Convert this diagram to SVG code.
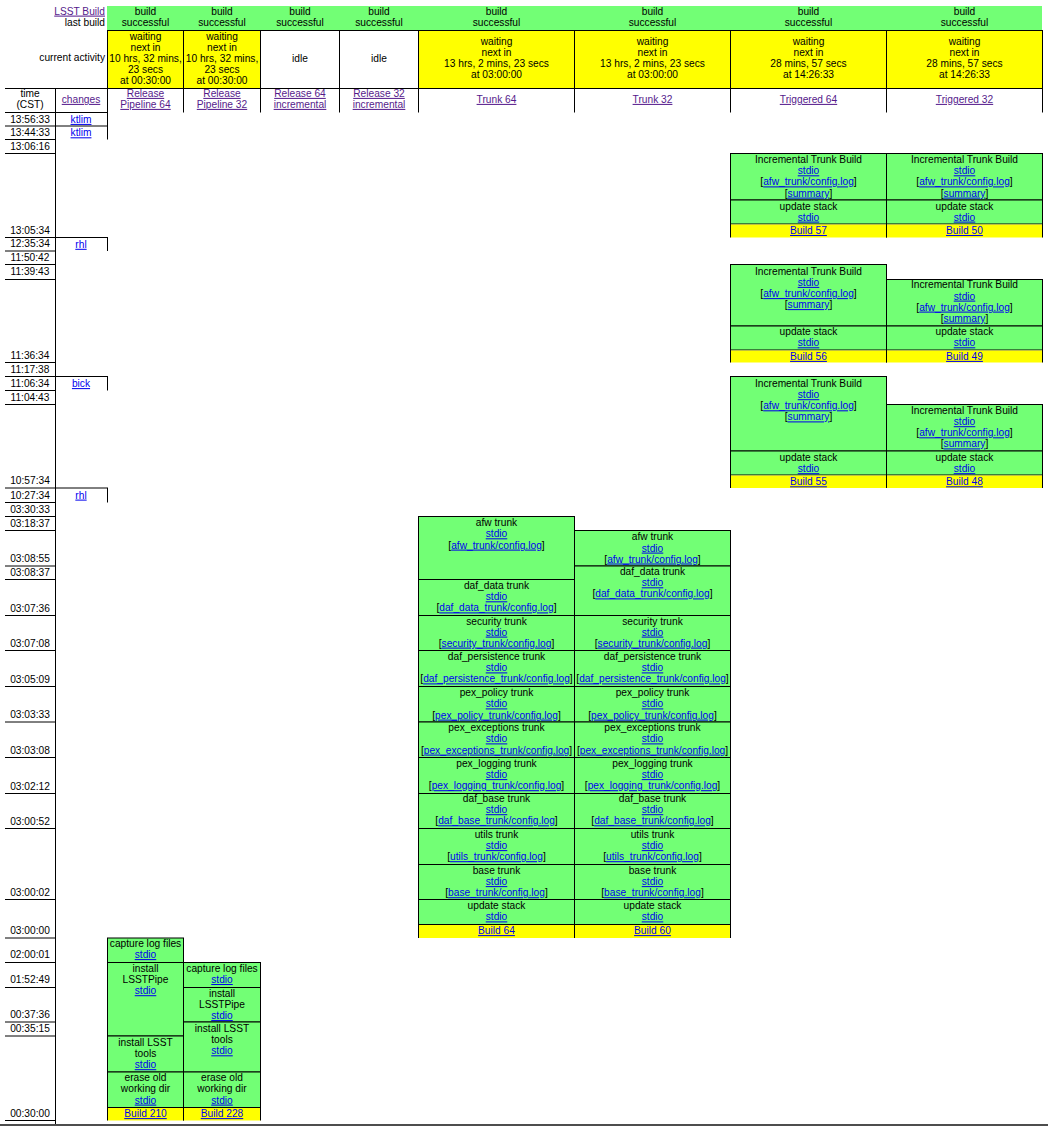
<svg xmlns="http://www.w3.org/2000/svg" width="1048" height="1126" viewBox="0 0 1048 1126">
<style>
text{font-family:"Liberation Sans",Arial,Helvetica,sans-serif;font-size:10.2px;fill:#000;text-anchor:middle}
.r{text-anchor:end}
.l{fill:#0000ee;text-decoration:underline}
.v{fill:#551a8b;text-decoration:underline}
.g{fill:#72ff75;stroke:#000;stroke-width:1}
.y{fill:#ffff00}
.w{fill:#fff;stroke:#000;stroke-width:1}
.ys{fill:#ffff00;stroke:#000;stroke-width:1}
line{stroke:#000;stroke-width:1}
</style>
<rect width="1048" height="1126" fill="#fff"/>

<g id="header">
  <rect x="107" y="6" width="935" height="24" fill="#72ff75"/>
  <text class="r v" x="105" y="14.6">LSST Build</text>
  <text class="r" x="105" y="25.6">last build</text>
  <text x="145.5" y="14.6">build</text><text x="145.5" y="25.6">successful</text>
  <text x="222" y="14.6">build</text><text x="222" y="25.6">successful</text>
  <text x="300" y="14.6">build</text><text x="300" y="25.6">successful</text>
  <text x="379" y="14.6">build</text><text x="379" y="25.6">successful</text>
  <text x="496.5" y="14.6">build</text><text x="496.5" y="25.6">successful</text>
  <text x="652.5" y="14.6">build</text><text x="652.5" y="25.6">successful</text>
  <text x="808.5" y="14.6">build</text><text x="808.5" y="25.6">successful</text>
  <text x="964.5" y="14.6">build</text><text x="964.5" y="25.6">successful</text>

  <text class="r" x="105" y="61.1">current activity</text>
  <rect class="ys" x="107.5" y="30.5" width="76" height="58"/>
  <rect class="ys" x="183.5" y="30.5" width="77" height="58"/>
  <rect class="w" x="260.5" y="30.5" width="79" height="58"/>
  <rect class="w" x="339.5" y="30.5" width="79" height="58"/>
  <rect class="ys" x="418.5" y="30.5" width="156" height="58"/>
  <rect class="ys" x="574.5" y="30.5" width="156" height="58"/>
  <rect class="ys" x="730.5" y="30.5" width="156" height="58"/>
  <rect class="ys" x="886.5" y="30.5" width="156" height="58"/>
  <text x="145.5" y="39.9">waiting</text><text x="145.5" y="50.9">next in</text><text x="145.5" y="61.9">10 hrs, 32 mins,</text><text x="145.5" y="72.9">23 secs</text><text x="145.5" y="83.6">at 00:30:00</text>
  <text x="222" y="39.9">waiting</text><text x="222" y="50.9">next in</text><text x="222" y="61.9">10 hrs, 32 mins,</text><text x="222" y="72.9">23 secs</text><text x="222" y="83.6">at 00:30:00</text>
  <text x="300" y="61.9">idle</text>
  <text x="379" y="61.9">idle</text>
  <text x="496.5" y="45.3">waiting</text><text x="496.5" y="56.1">next in</text><text x="496.5" y="66.9">13 hrs, 2 mins, 23 secs</text><text x="496.5" y="77.8">at 03:00:00</text>
  <text x="652.5" y="45.3">waiting</text><text x="652.5" y="56.1">next in</text><text x="652.5" y="66.9">13 hrs, 2 mins, 23 secs</text><text x="652.5" y="77.8">at 03:00:00</text>
  <text x="808.5" y="45.3">waiting</text><text x="808.5" y="56.1">next in</text><text x="808.5" y="66.9">28 mins, 57 secs</text><text x="808.5" y="77.8">at 14:26:33</text>
  <text x="964.5" y="45.3">waiting</text><text x="964.5" y="56.1">next in</text><text x="964.5" y="66.9">28 mins, 57 secs</text><text x="964.5" y="77.8">at 14:26:33</text>

  <text x="30" y="96.9">time</text><text x="30" y="107.9">(CST)</text>
  <text class="v" x="81" y="102.9">changes</text>
  <text class="v" x="145.5" y="96.9">Release</text><text class="v" x="145.5" y="107.9">Pipeline 64</text>
  <text class="v" x="222" y="96.9">Release</text><text class="v" x="222" y="107.9">Pipeline 32</text>
  <text class="v" x="300" y="96.9">Release 64</text><text class="v" x="300" y="107.9">incremental</text>
  <text class="v" x="379" y="96.9">Release 32</text><text class="v" x="379" y="107.9">incremental</text>
  <text class="v" x="496.5" y="102.9">Trunk 64</text>
  <text class="v" x="652.5" y="102.9">Trunk 32</text>
  <text class="v" x="808.5" y="102.9">Triggered 64</text>
  <text class="v" x="964.5" y="102.9">Triggered 32</text>
</g>

<g id="grid">
  <line x1="5" y1="88.5" x2="1043" y2="88.5"/>
  <line x1="55.5" y1="88.5" x2="55.5" y2="1124"/>
  <line x1="107.5" y1="88.5" x2="107.5" y2="112.5"/>
  <line x1="183.5" y1="88.5" x2="183.5" y2="112.5"/>
  <line x1="260.5" y1="88.5" x2="260.5" y2="112.5"/>
  <line x1="339.5" y1="88.5" x2="339.5" y2="112.5"/>
  <line x1="418.5" y1="88.5" x2="418.5" y2="112.5"/>
  <line x1="574.5" y1="88.5" x2="574.5" y2="112.5"/>
  <line x1="730.5" y1="88.5" x2="730.5" y2="112.5"/>
  <line x1="886.5" y1="88.5" x2="886.5" y2="112.5"/>
  <line x1="1042.5" y1="88.5" x2="1042.5" y2="112.5"/>
  <!-- change cells -->
  <line x1="5" y1="112.5" x2="108" y2="112.5"/>
  <line x1="5" y1="126" x2="108" y2="126"/>
  <line x1="107.5" y1="112.5" x2="107.5" y2="139.5"/>
  <line x1="5" y1="237.5" x2="108" y2="237.5"/>
  <line x1="107.5" y1="237.5" x2="107.5" y2="251"/>
  <line x1="5" y1="376.5" x2="108" y2="376.5"/>
  <line x1="107.5" y1="376.5" x2="107.5" y2="390.5"/>
  <line x1="5" y1="488" x2="108" y2="488"/>
  <line x1="107.5" y1="488" x2="107.5" y2="502.5"/>
  <!-- time rows -->
  <line x1="5" y1="139.5" x2="55" y2="139.5"/>
  <line x1="5" y1="153.5" x2="55" y2="153.5"/>
  <line x1="5" y1="251" x2="55" y2="251"/>
  <line x1="5" y1="264.5" x2="55" y2="264.5"/>
  <line x1="5" y1="279.5" x2="55" y2="279.5"/>
  <line x1="5" y1="362.5" x2="55" y2="362.5"/>
  <line x1="5" y1="390.5" x2="55" y2="390.5"/>
  <line x1="5" y1="404.5" x2="55" y2="404.5"/>
  <line x1="5" y1="502.5" x2="55" y2="502.5"/>
  <line x1="5" y1="516.5" x2="55" y2="516.5"/>
  <line x1="5" y1="530.5" x2="55" y2="530.5"/>
  <line x1="5" y1="566" x2="55" y2="566"/>
  <line x1="5" y1="579.5" x2="55" y2="579.5"/>
  <line x1="5" y1="615.5" x2="55" y2="615.5"/>
  <line x1="5" y1="650.5" x2="55" y2="650.5"/>
  <line x1="5" y1="686.5" x2="55" y2="686.5"/>
  <line x1="5" y1="722" x2="55" y2="722"/>
  <line x1="5" y1="757.5" x2="55" y2="757.5"/>
  <line x1="5" y1="793.5" x2="55" y2="793.5"/>
  <line x1="5" y1="828.5" x2="55" y2="828.5"/>
  <line x1="5" y1="899.5" x2="55" y2="899.5"/>
  <line x1="5" y1="938" x2="55" y2="938"/>
  <line x1="5" y1="962.5" x2="55" y2="962.5"/>
  <line x1="5" y1="987.5" x2="55" y2="987.5"/>
  <line x1="5" y1="1022" x2="55" y2="1022"/>
  <line x1="5" y1="1036" x2="55" y2="1036"/>
  <line x1="5" y1="1120.5" x2="55" y2="1120.5"/>
  <rect x="0" y="1124" width="1048" height="2" fill="#4d4d4d"/>
</g>

<g id="times">
  <text x="30" y="122.6">13:56:33</text>
  <text x="30" y="136.1">13:44:33</text>
  <text x="30" y="149.6">13:06:16</text>
  <text x="30" y="233.6">13:05:34</text>
  <text x="30" y="247.4">12:35:34</text>
  <text x="30" y="260.9">11:50:42</text>
  <text x="30" y="275.4">11:39:43</text>
  <text x="30" y="358.6">11:36:34</text>
  <text x="30" y="372.8">11:17:38</text>
  <text x="30" y="386.8">11:06:34</text>
  <text x="30" y="400.8">11:04:43</text>
  <text x="30" y="484.2">10:57:34</text>
  <text x="30" y="498.6">10:27:34</text>
  <text x="30" y="512.7">03:30:33</text>
  <text x="30" y="526.7">03:18:37</text>
  <text x="30" y="562.2">03:08:55</text>
  <text x="30" y="575.7">03:08:37</text>
  <text x="30" y="611.6">03:07:36</text>
  <text x="30" y="646.7">03:07:08</text>
  <text x="30" y="682.7">03:05:09</text>
  <text x="30" y="718.2">03:03:33</text>
  <text x="30" y="753.7">03:03:08</text>
  <text x="30" y="789.7">03:02:12</text>
  <text x="30" y="824.7">03:00:52</text>
  <text x="30" y="895.7">03:00:02</text>
  <text x="30" y="934.2">03:00:00</text>
  <text x="30" y="958.2">02:00:01</text>
  <text x="30" y="983.2">01:52:49</text>
  <text x="30" y="1018.2">00:37:36</text>
  <text x="30" y="1032.2">00:35:15</text>
  <text x="30" y="1116.7">00:30:00</text>
</g>

<g id="changes">
  <text class="l" x="81" y="122.9">ktlim</text>
  <text class="l" x="81" y="136.3">ktlim</text>
  <text class="l" x="81" y="247.8">rhl</text>
  <text class="l" x="81" y="387.1">bick</text>
  <text class="l" x="81" y="498.6">rhl</text>
</g>

<!-- Triggered 64 -->
<g id="trig64-build57">
  <rect class="g" x="730.5" y="153.5" width="156" height="46.5"/>
  <text x="808.5" y="163.1">Incremental Trunk Build</text>
  <text class="l" x="808.5" y="174.3">stdio</text>
  <text x="808.5" y="185.4">[<tspan class="l">afw_trunk/config.log</tspan>]</text>
  <text x="808.5" y="196.6">[<tspan class="l">summary</tspan>]</text>
  <rect class="g" x="730.5" y="200" width="156" height="24"/>
  <text x="808.5" y="209.6">update stack</text>
  <text class="l" x="808.5" y="220.6">stdio</text>
  <rect class="y" x="730.5" y="224.5" width="156" height="13"/>
  <line x1="730.5" y1="224" x2="730.5" y2="237.5"/><line x1="886.5" y1="224" x2="886.5" y2="237.5"/>
  <text class="l" x="808.5" y="234">Build 57</text>
</g>
<g id="trig32-build50">
  <rect class="g" x="886.5" y="153.5" width="156" height="46.5"/>
  <text x="964.5" y="163.1">Incremental Trunk Build</text>
  <text class="l" x="964.5" y="174.3">stdio</text>
  <text x="964.5" y="185.4">[<tspan class="l">afw_trunk/config.log</tspan>]</text>
  <text x="964.5" y="196.6">[<tspan class="l">summary</tspan>]</text>
  <rect class="g" x="886.5" y="200" width="156" height="24"/>
  <text x="964.5" y="209.6">update stack</text>
  <text class="l" x="964.5" y="220.6">stdio</text>
  <rect class="y" x="886.5" y="224.5" width="156" height="13"/>
  <line x1="886.5" y1="224" x2="886.5" y2="237.5"/><line x1="1042.5" y1="224" x2="1042.5" y2="237.5"/>
  <text class="l" x="964.5" y="234">Build 50</text>
</g>

<g id="trig64-build56">
  <rect class="g" x="730.5" y="264.5" width="156" height="61.5"/>
  <text x="808.5" y="274.6">Incremental Trunk Build</text>
  <text class="l" x="808.5" y="285.9">stdio</text>
  <text x="808.5" y="297.1">[<tspan class="l">afw_trunk/config.log</tspan>]</text>
  <text x="808.5" y="308.1">[<tspan class="l">summary</tspan>]</text>
  <rect class="g" x="730.5" y="326" width="156" height="24"/>
  <text x="808.5" y="335.1">update stack</text>
  <text class="l" x="808.5" y="346.3">stdio</text>
  <rect class="y" x="730.5" y="350.5" width="156" height="12"/>
  <line x1="730.5" y1="350" x2="730.5" y2="362.5"/><line x1="886.5" y1="350" x2="886.5" y2="362.5"/>
  <text class="l" x="808.5" y="359.9">Build 56</text>
</g>
<g id="trig32-build49">
  <rect class="g" x="886.5" y="279.5" width="156" height="46.5"/>
  <text x="964.5" y="288.4">Incremental Trunk Build</text>
  <text class="l" x="964.5" y="299.6">stdio</text>
  <text x="964.5" y="310.6">[<tspan class="l">afw_trunk/config.log</tspan>]</text>
  <text x="964.5" y="321.6">[<tspan class="l">summary</tspan>]</text>
  <rect class="g" x="886.5" y="326" width="156" height="24"/>
  <text x="964.5" y="335.1">update stack</text>
  <text class="l" x="964.5" y="346.3">stdio</text>
  <rect class="y" x="886.5" y="350.5" width="156" height="12"/>
  <line x1="886.5" y1="350" x2="886.5" y2="362.5"/><line x1="1042.5" y1="350" x2="1042.5" y2="362.5"/>
  <text class="l" x="964.5" y="359.9">Build 49</text>
</g>

<g id="trig64-build55">
  <rect class="g" x="730.5" y="376.5" width="156" height="74.5"/>
  <text x="808.5" y="386.9">Incremental Trunk Build</text>
  <text class="l" x="808.5" y="398.2">stdio</text>
  <text x="808.5" y="409.3">[<tspan class="l">afw_trunk/config.log</tspan>]</text>
  <text x="808.5" y="420.4">[<tspan class="l">summary</tspan>]</text>
  <rect class="g" x="730.5" y="451" width="156" height="24"/>
  <text x="808.5" y="460.9">update stack</text>
  <text class="l" x="808.5" y="472.2">stdio</text>
  <rect class="y" x="730.5" y="475.5" width="156" height="12.5"/>
  <line x1="730.5" y1="475" x2="730.5" y2="488"/><line x1="886.5" y1="475" x2="886.5" y2="488"/>
  <text class="l" x="808.5" y="485.3">Build 55</text>
</g>
<g id="trig32-build48">
  <rect class="g" x="886.5" y="404.5" width="156" height="46.5"/>
  <text x="964.5" y="413.9">Incremental Trunk Build</text>
  <text class="l" x="964.5" y="425.2">stdio</text>
  <text x="964.5" y="436.3">[<tspan class="l">afw_trunk/config.log</tspan>]</text>
  <text x="964.5" y="447.4">[<tspan class="l">summary</tspan>]</text>
  <rect class="g" x="886.5" y="451" width="156" height="24"/>
  <text x="964.5" y="460.9">update stack</text>
  <text class="l" x="964.5" y="472.2">stdio</text>
  <rect class="y" x="886.5" y="475.5" width="156" height="12.5"/>
  <line x1="886.5" y1="475" x2="886.5" y2="488"/><line x1="1042.5" y1="475" x2="1042.5" y2="488"/>
  <text class="l" x="964.5" y="485.3">Build 48</text>
</g>

<!-- Trunk 64 -->
<g id="trunk64-build64">
  <rect class="g" x="418.5" y="516.5" width="156" height="63"/>
  <text x="496.5" y="525.9">afw trunk</text><text class="l" x="496.5" y="537.3">stdio</text>
  <text x="496.5" y="548.6">[<tspan class="l">afw_trunk/config.log</tspan>]</text>
  <rect class="g" x="418.5" y="579.5" width="156" height="36"/>
  <text x="496.5" y="588.9">daf_data trunk</text><text class="l" x="496.5" y="600.3">stdio</text>
  <text x="496.5" y="611.4">[<tspan class="l">daf_data_trunk/config.log</tspan>]</text>
  <rect class="g" x="418.5" y="615.5" width="156" height="35"/>
  <text x="496.5" y="624.5">security trunk</text><text class="l" x="496.5" y="635.6">stdio</text>
  <text x="496.5" y="646.6">[<tspan class="l">security_trunk/config.log</tspan>]</text>
  <rect class="g" x="418.5" y="650.5" width="156" height="36"/>
  <text x="496.5" y="660.3">daf_persistence trunk</text><text class="l" x="496.5" y="671.4">stdio</text>
  <text x="496.5" y="682.4">[<tspan class="l">daf_persistence_trunk/config.log</tspan>]</text>
  <rect class="g" x="418.5" y="686.5" width="156" height="35.5"/>
  <text x="496.5" y="696.3">pex_policy trunk</text><text class="l" x="496.5" y="707.4">stdio</text>
  <text x="496.5" y="718.6">[<tspan class="l">pex_policy_trunk/config.log</tspan>]</text>
  <rect class="g" x="418.5" y="722" width="156" height="35.5"/>
  <text x="496.5" y="731.3">pex_exceptions trunk</text><text class="l" x="496.5" y="742.4">stdio</text>
  <text x="496.5" y="753.6">[<tspan class="l">pex_exceptions_trunk/config.log</tspan>]</text>
  <rect class="g" x="418.5" y="757.5" width="156" height="36"/>
  <text x="496.5" y="766.9">pex_logging trunk</text><text class="l" x="496.5" y="778.1">stdio</text>
  <text x="496.5" y="789.2">[<tspan class="l">pex_logging_trunk/config.log</tspan>]</text>
  <rect class="g" x="418.5" y="793.5" width="156" height="35"/>
  <text x="496.5" y="802.1">daf_base trunk</text><text class="l" x="496.5" y="813.2">stdio</text>
  <text x="496.5" y="824.3">[<tspan class="l">daf_base_trunk/config.log</tspan>]</text>
  <rect class="g" x="418.5" y="828.5" width="156" height="36"/>
  <text x="496.5" y="837.9">utils trunk</text><text class="l" x="496.5" y="849.1">stdio</text>
  <text x="496.5" y="860.2">[<tspan class="l">utils_trunk/config.log</tspan>]</text>
  <rect class="g" x="418.5" y="864.5" width="156" height="35"/>
  <text x="496.5" y="873.9">base trunk</text><text class="l" x="496.5" y="885.1">stdio</text>
  <text x="496.5" y="896.2">[<tspan class="l">base_trunk/config.log</tspan>]</text>
  <rect class="g" x="418.5" y="899.5" width="156" height="25"/>
  <text x="496.5" y="909.3">update stack</text><text class="l" x="496.5" y="920.4">stdio</text>
  <rect class="y" x="418.5" y="925" width="156" height="13"/>
  <line x1="418.5" y1="924.5" x2="418.5" y2="938"/><line x1="574.5" y1="924.5" x2="574.5" y2="938"/>
  <text class="l" x="496.5" y="934.1">Build 64</text>
</g>

<!-- Trunk 32 -->
<g id="trunk32-build60">
  <rect class="g" x="574.5" y="530.5" width="156" height="35.5"/>
  <text x="652.5" y="540.3">afw trunk</text><text class="l" x="652.5" y="551.6">stdio</text>
  <text x="652.5" y="562.5">[<tspan class="l">afw_trunk/config.log</tspan>]</text>
  <rect class="g" x="574.5" y="566" width="156" height="49.5"/>
  <text x="652.5" y="575.1">daf_data trunk</text><text class="l" x="652.5" y="586.3">stdio</text>
  <text x="652.5" y="597.4">[<tspan class="l">daf_data_trunk/config.log</tspan>]</text>
  <rect class="g" x="574.5" y="615.5" width="156" height="35"/>
  <text x="652.5" y="624.5">security trunk</text><text class="l" x="652.5" y="635.6">stdio</text>
  <text x="652.5" y="646.6">[<tspan class="l">security_trunk/config.log</tspan>]</text>
  <rect class="g" x="574.5" y="650.5" width="156" height="36"/>
  <text x="652.5" y="660.3">daf_persistence trunk</text><text class="l" x="652.5" y="671.4">stdio</text>
  <text x="652.5" y="682.4">[<tspan class="l">daf_persistence_trunk/config.log</tspan>]</text>
  <rect class="g" x="574.5" y="686.5" width="156" height="35.5"/>
  <text x="652.5" y="696.3">pex_policy trunk</text><text class="l" x="652.5" y="707.4">stdio</text>
  <text x="652.5" y="718.6">[<tspan class="l">pex_policy_trunk/config.log</tspan>]</text>
  <rect class="g" x="574.5" y="722" width="156" height="35.5"/>
  <text x="652.5" y="731.3">pex_exceptions trunk</text><text class="l" x="652.5" y="742.4">stdio</text>
  <text x="652.5" y="753.6">[<tspan class="l">pex_exceptions_trunk/config.log</tspan>]</text>
  <rect class="g" x="574.5" y="757.5" width="156" height="36"/>
  <text x="652.5" y="766.9">pex_logging trunk</text><text class="l" x="652.5" y="778.1">stdio</text>
  <text x="652.5" y="789.2">[<tspan class="l">pex_logging_trunk/config.log</tspan>]</text>
  <rect class="g" x="574.5" y="793.5" width="156" height="35"/>
  <text x="652.5" y="802.1">daf_base trunk</text><text class="l" x="652.5" y="813.2">stdio</text>
  <text x="652.5" y="824.3">[<tspan class="l">daf_base_trunk/config.log</tspan>]</text>
  <rect class="g" x="574.5" y="828.5" width="156" height="36"/>
  <text x="652.5" y="837.9">utils trunk</text><text class="l" x="652.5" y="849.1">stdio</text>
  <text x="652.5" y="860.2">[<tspan class="l">utils_trunk/config.log</tspan>]</text>
  <rect class="g" x="574.5" y="864.5" width="156" height="35"/>
  <text x="652.5" y="873.9">base trunk</text><text class="l" x="652.5" y="885.1">stdio</text>
  <text x="652.5" y="896.2">[<tspan class="l">base_trunk/config.log</tspan>]</text>
  <rect class="g" x="574.5" y="899.5" width="156" height="25"/>
  <text x="652.5" y="909.3">update stack</text><text class="l" x="652.5" y="920.4">stdio</text>
  <rect class="y" x="574.5" y="925" width="156" height="13"/>
  <line x1="574.5" y1="924.5" x2="574.5" y2="938"/><line x1="730.5" y1="924.5" x2="730.5" y2="938"/>
  <text class="l" x="652.5" y="934.1">Build 60</text>
</g>

<!-- Release Pipeline 64 -->
<g id="rp64-build210">
  <rect class="g" x="107.5" y="938" width="76" height="24.5"/>
  <text x="145.5" y="947.1">capture log files</text><text class="l" x="145.5" y="958.1">stdio</text>
  <rect class="g" x="107.5" y="962.5" width="76" height="73.5"/>
  <text x="145.5" y="971.9">install</text><text x="145.5" y="983">LSSTPipe</text><text class="l" x="145.5" y="994.2">stdio</text>
  <rect class="g" x="107.5" y="1036" width="76" height="36"/>
  <text x="145.5" y="1045.9">install LSST</text><text x="145.5" y="1057">tools</text><text class="l" x="145.5" y="1068.2">stdio</text>
  <rect class="g" x="107.5" y="1072" width="76" height="35.5"/>
  <text x="145.5" y="1081.3">erase old</text><text x="145.5" y="1092.4">working dir</text><text class="l" x="145.5" y="1103.6">stdio</text>
  <rect class="y" x="107.5" y="1108" width="76" height="12.5"/>
  <line x1="107.5" y1="1107.5" x2="107.5" y2="1120.5"/><line x1="183.5" y1="1107.5" x2="183.5" y2="1120.5"/>
  <text class="l" x="145.5" y="1117.1">Build 210</text>
</g>

<!-- Release Pipeline 32 -->
<g id="rp32-build228">
  <rect class="g" x="183.5" y="962.5" width="77" height="25"/>
  <text x="222" y="971.9">capture log files</text><text class="l" x="222" y="983">stdio</text>
  <rect class="g" x="183.5" y="987.5" width="77" height="34.5"/>
  <text x="222" y="996.9">install</text><text x="222" y="1008">LSSTPipe</text><text class="l" x="222" y="1019.1">stdio</text>
  <rect class="g" x="183.5" y="1022" width="77" height="50"/>
  <text x="222" y="1031.9">install LSST</text><text x="222" y="1043.1">tools</text><text class="l" x="222" y="1054.3">stdio</text>
  <rect class="g" x="183.5" y="1072" width="77" height="35.5"/>
  <text x="222" y="1081.3">erase old</text><text x="222" y="1092.4">working dir</text><text class="l" x="222" y="1103.6">stdio</text>
  <rect class="y" x="183.5" y="1108" width="77" height="12.5"/>
  <line x1="183.5" y1="1107.5" x2="183.5" y2="1120.5"/><line x1="260.5" y1="1107.5" x2="260.5" y2="1120.5"/>
  <text class="l" x="222" y="1117.1">Build 228</text>
</g>
</svg>
